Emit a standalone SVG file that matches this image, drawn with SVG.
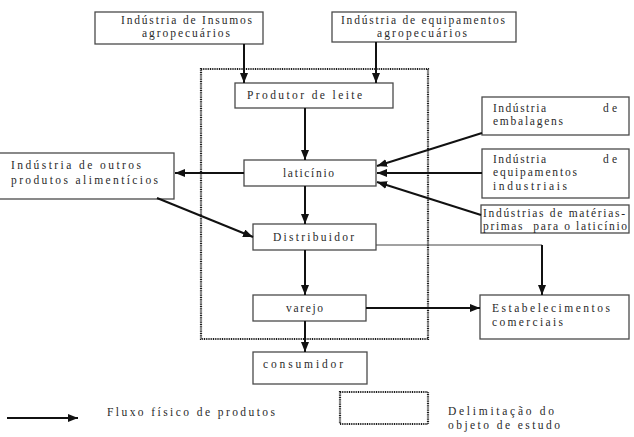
<svg xmlns="http://www.w3.org/2000/svg" width="634" height="437" viewBox="0 0 634 437">
<style>
.box{fill:#fff;stroke:#4a4a4a;stroke-width:1.3}
.t{font-family:"Liberation Serif","Times New Roman",serif;font-size:11.5px;fill:#2a2a2a}
.a{stroke:#111;stroke-width:2;fill:none;marker-end:url(#ah)}
.thin{stroke:#444;stroke-width:1;fill:none}
.dot{fill:none;stroke:#1a1a1a;stroke-width:2.2;stroke-dasharray:1 0.8}
</style>
<defs>
<marker id="ah" markerUnits="userSpaceOnUse" markerWidth="10" markerHeight="8" refX="10" refY="4" orient="auto">
<path d="M0,0 L10,4 L0,8 z" fill="#111"/>
</marker>
</defs>
<rect width="634" height="437" fill="#fff"/>
<g id="delimitacao"><rect class="dot" x="201" y="69" width="227" height="270"/></g>
<g id="insumos"><rect class="box" x="95" y="12" width="168" height="32"/>
<text class="t" x="121" y="24" textLength="131" lengthAdjust="spacing">Indústria de Insumos</text>
<text class="t" x="142" y="37" textLength="88" lengthAdjust="spacing">agropecuários</text></g>
<g id="equipagro"><rect class="box" x="332" y="12" width="184" height="30"/>
<text class="t" x="341" y="24" textLength="164" lengthAdjust="spacing">Indústria de equipamentos</text>
<text class="t" x="377" y="37" textLength="90" lengthAdjust="spacing">agropecuários</text></g>
<g id="produtor"><rect class="box" x="235" y="83" width="158" height="25"/>
<text class="t" x="247" y="99" textLength="115" lengthAdjust="spacing">Produtor de leite</text></g>
<g id="laticinio"><rect class="box" x="244" y="160" width="132" height="26"/>
<text class="t" x="283" y="177" textLength="51" lengthAdjust="spacing">laticínio</text></g>
<g id="distribuidor"><rect class="box" x="253" y="224" width="123" height="26"/>
<text class="t" x="273" y="241" textLength="81" lengthAdjust="spacing">Distribuidor</text></g>
<g id="varejo"><rect class="box" x="253" y="295" width="113" height="26"/>
<text class="t" x="286" y="312" textLength="37" lengthAdjust="spacing">varejo</text></g>
<g id="consumidor"><rect class="box" x="253" y="352" width="114" height="32"/>
<text class="t" x="263" y="368" textLength="80" lengthAdjust="spacing">consumidor</text></g>
<g id="outros"><rect class="box" x="-1" y="153" width="175" height="46"/>
<text class="t" x="11" y="169" textLength="130" lengthAdjust="spacing">Indústria de outros</text>
<text class="t" x="11" y="184" textLength="147" lengthAdjust="spacing">produtos alimentícios</text></g>
<g id="embalagens"><rect class="box" x="482" y="97" width="147" height="38"/>
<text class="t" x="493" y="112" textLength="53" lengthAdjust="spacing">Indústria</text>
<text class="t" x="603" y="112" textLength="14" lengthAdjust="spacing">de</text>
<text class="t" x="493" y="125" textLength="70" lengthAdjust="spacing">embalagens</text></g>
<g id="equipind"><rect class="box" x="482" y="149" width="147" height="49"/>
<text class="t" x="493" y="163" textLength="53" lengthAdjust="spacing">Indústria</text>
<text class="t" x="603" y="163" textLength="14" lengthAdjust="spacing">de</text>
<text class="t" x="493" y="176" textLength="84" lengthAdjust="spacing">equipamentos</text>
<text class="t" x="493" y="190" textLength="74" lengthAdjust="spacing">industriais</text></g>
<g id="materias"><rect class="box" x="481" y="205" width="148" height="28"/>
<text class="t" x="483" y="217" textLength="142" lengthAdjust="spacing">Indústrias de matérias-</text>
<text class="t" x="483" y="230" textLength="144" lengthAdjust="spacing" xml:space="preserve">primas  para o laticínio</text></g>
<g id="estabelecimentos"><rect class="box" x="480" y="295" width="149" height="44"/>
<text class="t" x="492" y="312" textLength="118" lengthAdjust="spacing">Estabelecimentos</text>
<text class="t" x="492" y="326" textLength="71" lengthAdjust="spacing">comerciais</text></g>
<g id="connectors">
<line class="a" x1="244" y1="44" x2="244" y2="83"/>
<line class="a" x1="376" y1="42" x2="376" y2="83"/>
<line class="a" x1="305" y1="108" x2="305" y2="160"/>
<line class="a" x1="305" y1="186" x2="305" y2="224"/>
<line class="a" x1="305" y1="250" x2="305" y2="295"/>
<line class="a" x1="305" y1="321" x2="305" y2="352"/>
<line class="a" x1="244" y1="173" x2="175" y2="173"/>
<line class="a" x1="157" y1="198" x2="253" y2="237"/>
<line class="a" x1="482" y1="133" x2="377" y2="166"/>
<line class="a" x1="482" y1="173" x2="377" y2="173"/>
<line class="a" x1="481" y1="215" x2="377" y2="182"/>
<polyline class="thin" points="376,245 542,245"/>
<line class="a" x1="542" y1="245" x2="542" y2="295"/>
<line class="a" x1="366" y1="308" x2="480" y2="308"/>
</g>
<g id="legenda">
<line class="a" x1="7" y1="418" x2="78" y2="418"/>
<text class="t" x="107" y="416" textLength="168" lengthAdjust="spacing">Fluxo físico de produtos</text>
<rect class="dot" x="340" y="392" width="88" height="32"/>
<text class="t" x="448" y="415" textLength="106" lengthAdjust="spacing">Delimitação do</text>
<text class="t" x="448" y="429" textLength="112" lengthAdjust="spacing">objeto de estudo</text>
</g>
</svg>
